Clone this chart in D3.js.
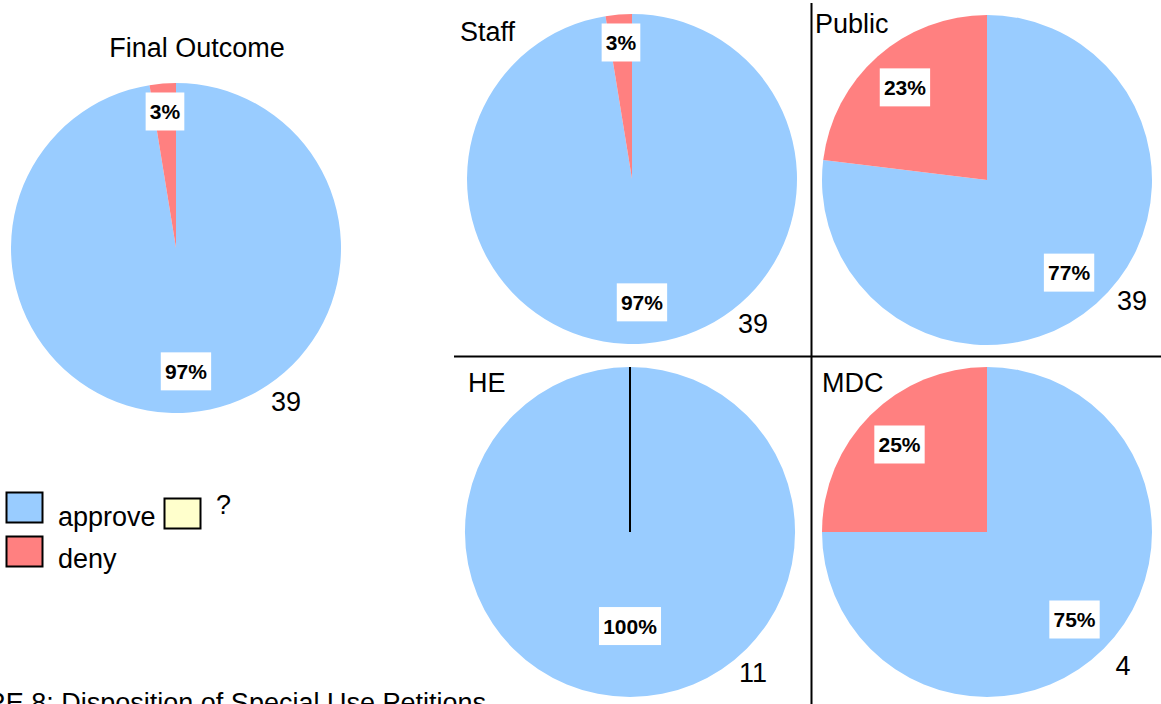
<!DOCTYPE html>
<html>
<head>
<meta charset="utf-8">
<script src="https://cdn.jsdelivr.net/npm/d3@7"></script>
<style>
  body { margin: 0; background: #fff; overflow: hidden; }
  svg text { font-family: "Liberation Sans", Arial, sans-serif; fill: #000; }
</style>
</head>
<body>
<svg id="chart" width="1161" height="704"></svg>
<script>
// data
var panelNames = ["Final Outcome", "Staff", "Public", "HE", "MDC"];
var approveCounts = [38, 38, 30, 11, 3];
var denyCounts = [1, 1, 9, 0, 1];
var categories = ["approve", "deny", "?"];
var categoryColors = ["#99ccff", "#ff8080", "#ffffcc"];
var caption = "FIGURE 8: Disposition of Special Use Petitions";

// layout of each pie (center, title placement, where the count sits)
var layout = [
    { cx: 176, cy: 248, tx: 197, ty: 57, anchor: "middle", nx: 110, ny: 153 },
    { cx: 632, cy: 179, tx: 460, ty: 41, anchor: "start", nx: 121, ny: 144 },
    { cx: 987, cy: 180, tx: 815, ty: 33, anchor: "start", nx: 145, ny: 120 },
    { cx: 630, cy: 532, tx: 468, ty: 392, anchor: "start", nx: 123, ny: 140 },
    { cx: 987, cy: 532, tx: 822, ty: 392, anchor: "start", nx: 136, ny: 133 }
];
var radius = 165;

var svg = d3.select("#chart");
var color = d3.scaleOrdinal().domain(categories).range(categoryColors);
var pct = d3.format(".0%");

var pie = d3.pie()
    .sort(null)
    .value(function (d) { return d.value; });

var arc = d3.arc().innerRadius(0).outerRadius(radius);

/* grid lines between the four small pies */
svg.append("line")
    .attr("x1", 454).attr("x2", 1161)
    .attr("y1", 356.5).attr("y2", 356.5)
    .attr("stroke", "#000").attr("stroke-width", 2);
svg.append("line")
    .attr("x1", 811.5).attr("x2", 811.5)
    .attr("y1", 3).attr("y2", 704)
    .attr("stroke", "#000").attr("stroke-width", 2);

panelNames.forEach(function (name, i) {
    var L = layout[i];
    var total = approveCounts[i] + denyCounts[i];
    var slices = [
        { key: "approve", value: approveCounts[i] },
        { key: "deny", value: denyCounts[i] }
    ];
    var arcs = pie(slices).filter(function (d) { return d.data.value > 0; });

    var g = svg.append("g")
        .attr("transform", "translate(" + L.cx + "," + L.cy + ")");

    g.selectAll("path.slice")
        .data(arcs)
        .enter().append("path")
        .attr("class", "slice")
        .attr("d", arc)
        .attr("fill", function (d) { return color(d.data.key); });

    // a full circle slice still shows its edge from the centre to the top
    if (arcs.length === 1) {
        g.append("line")
            .attr("x1", 0).attr("y1", 0)
            .attr("x2", 0).attr("y2", -radius)
            .attr("stroke", "#000").attr("stroke-width", 2);
    }

    // percent labels in white boxes
    var labels = g.selectAll("g.lbl")
        .data(arcs)
        .enter().append("g")
        .attr("class", "lbl")
        .attr("transform", function (d) {
            var share = d.data.value / total;
            var r = share >= 1 ? radius * 0.57 : (share < 0.05 ? radius * 0.83 : radius * 0.75);
            var a = (d.startAngle + d.endAngle) / 2;
            return "translate(" + (Math.sin(a) * r) + "," + (-Math.cos(a) * r) + ")";
        });

    labels.append("text")
        .attr("text-anchor", "middle")
        .attr("dy", "0.36em")
        .style("font-size", "21px")
        .style("font-weight", "bold")
        .text(function (d) { return pct(d.data.value / total); });

    labels.each(function () {
        var t = d3.select(this).select("text");
        var bb = t.node().getBBox();
        d3.select(this).insert("rect", "text")
            .attr("x", -bb.width / 2 - 4)
            .attr("y", -19)
            .attr("width", bb.width + 8)
            .attr("height", 38)
            .attr("fill", "#fff");
    });

    // total count, bottom right of the pie
    g.append("text")
        .attr("x", L.nx)
        .attr("y", L.ny)
        .attr("text-anchor", "middle")
        .attr("dy", "0.36em")
        .style("font-size", "27px")
        .text(total);

    // panel title
    svg.append("text")
        .attr("x", L.tx)
        .attr("y", L.ty)
        .attr("text-anchor", L.anchor)
        .style("font-size", "27px")
        .text(name);
});

/* legend */
var legendPos = [
    { x: 6, y: 492, tx: 58, ty: 526 },
    { x: 6, y: 536, tx: 58, ty: 568 },
    { x: 164, y: 498, tx: 216, ty: 514 }
];
var legend = svg.selectAll("g.legend")
    .data(categories)
    .enter().append("g")
    .attr("class", "legend");

legend.append("rect")
    .attr("x", function (d, i) { return legendPos[i].x + 0.5; })
    .attr("y", function (d, i) { return legendPos[i].y + 0.5; })
    .attr("width", 36)
    .attr("height", 30)
    .attr("fill", function (d) { return color(d); })
    .attr("stroke", "#000")
    .attr("stroke-width", 2);

legend.append("text")
    .attr("x", function (d, i) { return legendPos[i].tx; })
    .attr("y", function (d, i) { return legendPos[i].ty; })
    .style("font-size", "27px")
    .text(function (d) { return d; });

/* caption, cut off at the page edge */
svg.append("text")
    .attr("x", 486)
    .attr("y", 712)
    .attr("text-anchor", "end")
    .style("font-size", "27px")
    .text(caption);
</script>
</body>
</html>
